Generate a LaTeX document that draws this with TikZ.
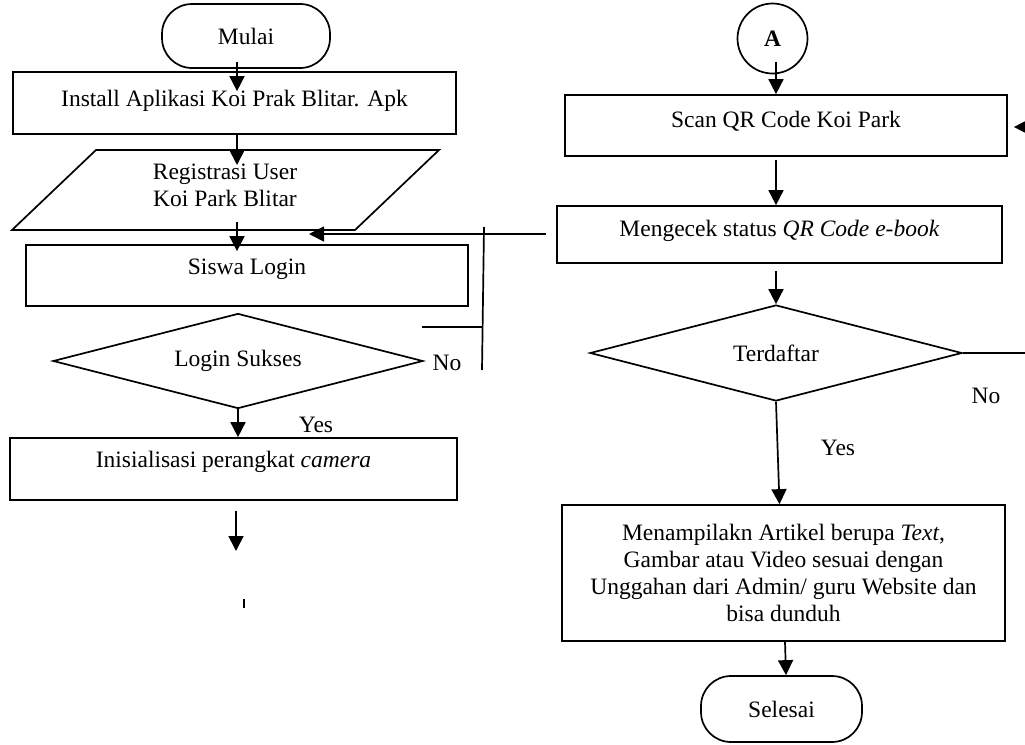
\documentclass[tikz,border=0pt]{standalone}
\usepackage{fontspec}
\setmainfont{Liberation Serif}
\usetikzlibrary{shapes.geometric,arrows.meta,calc}
\begin{document}
\begin{tikzpicture}[x=1pt,y=-1pt,
  every node/.style={font=\fontsize{23.5}{27}\selectfont},
  ln/.style={line width=1.7pt},
  thin ln/.style={line width=1.2pt},
  arr/.style={line width=1.7pt,-{Triangle[length=15pt,width=15pt]}},
  box/.style={draw,line width=1.7pt,rectangle,inner sep=0pt},
  term/.style={draw,line width=1.7pt,rectangle,rounded corners=30pt,inner sep=0pt},
  dec/.style={draw,line width=1.7pt,diamond,aspect=3.9,inner sep=0pt},
  lbl/.style={inner sep=0pt}]
\useasboundingbox (0,0) rectangle (1025,744);

% ---------- left column ----------
\node[term,minimum width=168,minimum height=64] (mulai) at (246,36) {Mulai};
\node[box,minimum width=443,text height=34pt,text depth=28pt] (install) at (234.5,103) {Install Aplikasi Koi Prak Blitar. Apk};
\node[lbl,align=center] (reg) at (225,185) {Registrasi User\\Koi Park Blitar};
\draw[ln] (96,150) -- (439,150) -- (355,230) -- (12,230) -- cycle;
\coordinate (regtop) at (237,150);
\coordinate (regbot) at (237,230);
\node[box,minimum width=442,text height=29pt,text depth=32pt] (siswa) at (247,275.5) {Siswa Login};
\node[dec,minimum width=370,minimum height=95] (login) at (238,361) {Login Sukses};
\node[box,minimum width=447,text height=29pt,text depth=33pt] (inisial) at (233.5,469) {Inisialisasi perangkat \textit{camera}};
\coordinate (cont) at (236,551);

\draw[arr] ($(mulai.south)+(-9,-7)$) -- ($(install.north)+(2.5,20)$);
\draw[arr] (install.south -| regtop) -- ($(regtop)+(0,15)$);
\draw[arr] ($(regbot)+(0,-8)$) -- ($(siswa.north -| regbot)+(0,7)$);
\draw[arr] (login.south) -- (login.south |- inisial.north);
\draw[arr] ($(inisial.south -| cont)+(0,10)$) -- (cont);
\coordinate (tickA) at (244,599);
\coordinate (tickB) at (244,608);
\draw[thin ln] (tickA) -- (tickB);

% "No" loop
\coordinate (nx) at (546,234);
\coordinate (ntip) at (309,234);
\draw[arr] (nx) -- (ntip);
\coordinate (vt) at (484,227);
\coordinate (vb) at (482,370);
\draw[ln] (vt) -- (vb);
\coordinate (hs) at (422,327);
\coordinate (he) at (483,327);
\draw[thin ln] (hs) -- (he);
\node[lbl] (no1) at (447,363) {No};
\node[lbl] (yes1) at (316,425) {Yes};

% ---------- right column ----------
\node[draw,circle,line width=1.7pt,minimum size=70,inner sep=0pt,font=\bfseries\fontsize{23.5}{27}\selectfont] (A) at (772.5,38.5) {A};
\node[box,minimum width=442,text height=32pt,text depth=29pt] (scan) at (786,125.5) {Scan QR Code Koi Park};
\node[box,minimum width=445,text height=30pt,text depth=27pt] (cek) at (779.5,234.5) {Mengecek status \textit{QR Code e-book}};
\node[dec,minimum width=372,minimum height=96] (terd) at (776,353) {Terdaftar};
\node[box,minimum width=443,minimum height=136,align=center] (tampil) at (783.5,573) {Menampilakn Artikel berupa \textit{Text},\\Gambar atau Video sesuai dengan\\Unggahan dari Admin/ guru Website dan\\bisa dunduh};
\node[term,minimum width=161,minimum height=66] (selesai) at (781.5,709) {Selesai};

\draw[arr] ($(A.south)+(3.5,-12.5)$) -- ($(scan.north)+(-10,0)$);
\draw[arr] ($(scan.south)+(-10,3)$) -- ($(cek.north)+(-3.5,0)$);
\draw[arr] ($(cek.south)+(-3.5,7)$) -- (terd.north);
\draw[arr] (terd.south) -- ($(tampil.north)+(-4,0)$);
\draw[arr] ($(tampil.south)+(1.5,0)$) -- ($(selesai.north)+(4.5,0)$);

\coordinate (redge) at (1025,353);
\draw[ln] (terd.east) -- (redge);
\coordinate (rin) at (1030,127);
\draw[arr] (rin) -- ($(scan.east)+(6,1.5)$);

\node[lbl] (no2) at (986,396) {No};
\node[lbl] (yes2) at (838,448) {Yes};
\end{tikzpicture}
\end{document}
